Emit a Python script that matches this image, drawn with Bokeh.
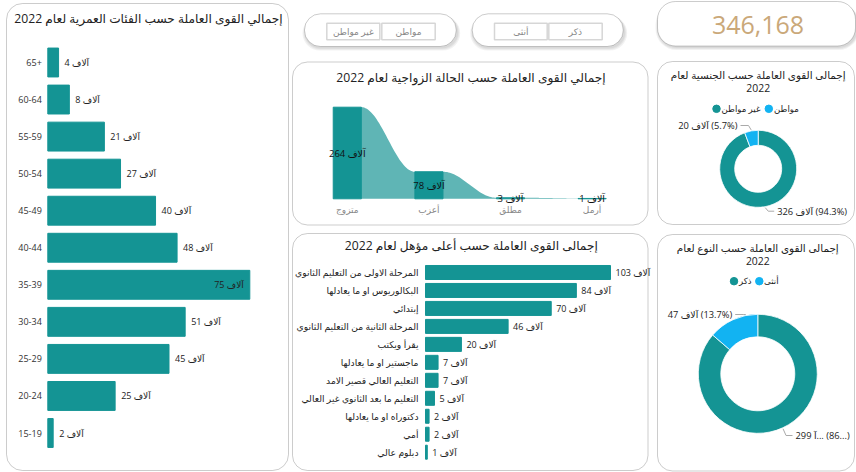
import numpy as np
from bokeh.plotting import figure
from bokeh.models import Range1d, BoxAnnotation
from bokeh.core.properties import value
from bokeh.embed import file_html
from bokeh.resources import INLINE

# ---------------- data ----------------
UNIT = "آلاف"
kpi_total = 346168

age_title = "إجمالي القوى العاملة حسب الفئات العمرية لعام 2022"
age_groups = ["65+", "60-64", "55-59", "50-54", "45-49", "40-44", "35-39", "30-34", "25-29", "20-24", "15-19"]
age_values = [4, 8, 21, 27, 40, 48, 75, 51, 45, 25, 2]

marital_title = "إجمالي القوى العاملة حسب الحالة الزواجية لعام 2022"
marital_status = ["متزوج", "أعزب", "مطلق", "أرمل"]
marital_values = [264, 78, 3, 1]

edu_title = "إجمالى القوى العاملة حسب أعلى مؤهل لعام 2022"
edu_levels = ["المرحلة الاولى من التعليم الثانوي", "البكالوريوس او ما يعادلها", "إبتدائي",
              "المرحلة الثانية من التعليم الثانوي", "يقرأ ويكتب", "ماجستير او ما يعادلها",
              "التعليم العالي قصير الامد", "التعليم ما بعد الثانوي غير العالي",
              "دكتوراه او ما يعادلها", "أمي", "دبلوم عالي"]
edu_values = [103, 84, 70, 46, 20, 7, 7, 5, 2, 2, 1]

nat_title = ["إجمالى القوى العاملة حسب الجنسية لعام", "2022"]
nat_labels = ["غير مواطن", "مواطن"]
nat_values = [326, 20]
nat_pct = [94.3, 5.7]

gender_title = ["إجمالى القوى العاملة حسب النوع لعام", "2022"]
gender_labels = ["ذكر", "أنثى"]
gender_values = [299, 47]
gender_pct = [86.3, 13.7]

slicer_nat = ["غير مواطن", "مواطن"]
slicer_gender = ["أنثى", "ذكر"]

# ---------------- style ----------------
W, H = 856, 472
TEAL = "#149494"
BLUE = "#12b3f2"
RIBBON = "#5fb5b5"
GOLD = "#caa879"
FONT = "Open Sans, DejaVu Sans"


def rtl(s):
    return "\u202b" + s + "\u202c"


def xr(va, vb, pa, pb):
    k = (vb - va) / (pb - pa)
    s = va - k * pa
    return Range1d(s, s + k * W)


def yr(va, vb, pa, pb):
    k = (vb - va) / (pa - pb)
    s = va - k * (H - pa)
    return Range1d(s, s + k * H)


p = figure(width=W, height=H, x_range=Range1d(0, W), y_range=Range1d(H, 0),
           output_backend="svg", toolbar_location=None, min_border=0,
           x_axis_location=None, y_axis_location=None)
p.outline_line_color = None
p.grid.visible = False
p.background_fill_color = "white"
p.border_fill_color = "white"

p.extra_x_ranges = {
    "age_x": xr(0, 75, 47.3, 249.3),
    "edu_x": xr(0, 103, 425, 610),
    "mar_x": xr(0, 1, 346.8, 428.4),
}
p.extra_y_ranges = {
    "age_y": yr(0, 10, 62, 432.5),
    "edu_y": yr(0, 10, 272, 451.7),
    "mar_y": yr(0, 264, 198.3, 106.7),
    "up": Range1d(0, H),
}


def box(l, t, r, b, radius=0, line="#555", lw=1.0, fill="white", alpha=1.0):
    p.add_layout(BoxAnnotation(left=l, right=r, top=H - t, bottom=H - b, y_range_name="up",
                               fill_color=fill, fill_alpha=alpha, line_color=line,
                               line_width=lw, border_radius=radius, level="underlay"))


def shadow(l, t, r, b, radius):
    for k in (3, 2, 1):
        p.add_layout(BoxAnnotation(left=l - k + 1, right=r + k + 1, top=H - (t + 2), bottom=H - (b + 1 + k),
                                   y_range_name="up", fill_color="black", fill_alpha=0.05,
                                   line_color=None, border_radius=radius + k, level="underlay"))


def txt(x, y, s, size, color="#222", align="center", baseline="middle", xo=0, yo=0,
        xname=None, yname=None, style="normal"):
    kw = {}
    if xname:
        kw["x_range_name"] = xname
    if yname:
        kw["y_range_name"] = yname
    p.text(x=list(x), y=list(y), text=list(s), text_font=value(FONT),
           text_font_size=f"{size}px", text_color=color, text_align=align,
           text_baseline=baseline, x_offset=xo, y_offset=yo, text_font_style=style, **kw)


# ---------------- panels ----------------
shadow(657, 1, 855, 45.5, 18)
shadow(304, 13.3, 455.7, 46, 16)
shadow(471.7, 13.3, 622.7, 46, 16)
box(6, 3, 288, 470, 16)
box(292, 61.5, 647.5, 224.5, 15)
box(292, 233, 647.5, 470, 15)
box(657, 61, 854, 224, 15)
box(657, 234, 854, 470.5, 15)
box(657, 1, 855, 45.5, 18)
box(304, 13.3, 455.7, 46, 16)
box(471.7, 13.3, 622.7, 46, 16)

# ---------------- KPI ----------------
txt([757.5], [24], [f"{kpi_total:,}"], 25, color=GOLD)

# ---------------- slicers ----------------
for (l, r, lab) in [(326.3, 379.3, slicer_nat[0]), (381.3, 434.7, slicer_nat[1]),
                    (494, 546.7, slicer_gender[0]), (548.3, 601.7, slicer_gender[1])]:
    box(l, 22.7, r, 39.3, 0, line="#777", lw=1.5)
    txt([(l + r) / 2], [31], [lab], 9, color="#888")

# ---------------- age chart ----------------
TITLE = 12.2
txt([148], [18], [rtl(age_title)], TITLE)
ai = list(range(len(age_groups)))
p.hbar(y=ai, left=0, right=age_values, height=0.78, color=TEAL,
       x_range_name="age_x", y_range_name="age_y")
txt([0] * len(ai), ai, age_groups, 9, color="#333", align="right", xo=-6,
    xname="age_x", yname="age_y")
amax = max(age_values)
out_i = [i for i in ai if age_values[i] < 0.85 * amax]
in_i = [i for i in ai if age_values[i] >= 0.85 * amax]
txt([age_values[i] for i in out_i], out_i, [f"{age_values[i]} {UNIT}" for i in out_i], 9,
    color="#222", align="left", xo=6, xname="age_x", yname="age_y")
txt([age_values[i] for i in in_i], in_i, [f"{age_values[i]} {UNIT}" for i in in_i], 9,
    color="#222", align="right", xo=-6, xname="age_x", yname="age_y")

# ---------------- marital ribbon chart ----------------
txt([470.5], [77], [rtl(marital_title)], TITLE)
mi = list(range(len(marital_status)))
hw = 0.345 / 2
t = np.linspace(0, 1, 40)
for i in range(len(mi) - 1):
    v0, v1 = marital_values[i], marital_values[i + 1]
    xs = list(i + hw + t * (1 - 2 * hw))
    ys = list(v0 + (v1 - v0) * (1 - np.cos(np.pi * t)) / 2)
    p.patch(xs + [xs[-1], xs[0]], ys + [0, 0], color=RIBBON, line_width=0,
            x_range_name="mar_x", y_range_name="mar_y")
p.vbar(x=mi, top=marital_values, bottom=0, width=0.345, color=TEAL,
       x_range_name="mar_x", y_range_name="mar_y")
txt(mi, [v / 2 for v in marital_values], [f"{v} {UNIT}" for v in marital_values], 9.5,
    color="#111", xname="mar_x", yname="mar_y")
txt(mi, [0] * len(mi), marital_status, 9, color="#888", baseline="top", yo=4,
    xname="mar_x", yname="mar_y")

# ---------------- education chart ----------------
txt([470.8], [245], [rtl(edu_title)], TITLE)
ei = list(range(len(edu_levels)))
p.hbar(y=ei, left=0, right=edu_values, height=0.78, color=TEAL,
       x_range_name="edu_x", y_range_name="edu_y")
txt([0] * len(ei), ei, edu_levels, 9.2, color="#222", align="right", xo=-7,
    xname="edu_x", yname="edu_y")
txt(edu_values, ei, [f"{v} {UNIT}" for v in edu_values], 9, color="#222", align="left", xo=5,
    xname="edu_x", yname="edu_y")


# ---------------- donuts ----------------
def donut(cx, cy, r_in, r_out, pcts, vals, title, tys, legend, label_pos, trunc=False):
    txt([cx, cx], tys, [title[0], title[1]], 10.4)
    # legend
    (dots, texts, ly) = legend
    cols = [TEAL, BLUE]
    p.scatter(x=dots, y=[ly, ly], size=7.5, color=cols)
    txt(texts[0], [ly, ly], texts[1], 8.6, color="#222", align="left")
    # slices: first clockwise from 12 o'clock, second counter-clockwise from 12
    f0 = pcts[0] / 100.0
    f1 = pcts[1] / 100.0
    a_top = np.pi / 2
    starts = [a_top - f0 * 2 * np.pi, a_top]
    ends = [a_top, a_top + f1 * 2 * np.pi]
    p.annular_wedge(x=[cx, cx], y=[H - cy, H - cy], inner_radius=r_in, outer_radius=r_out,
                    inner_radius_units="screen", outer_radius_units="screen",
                    start_angle=starts, end_angle=ends, fill_color=cols,
                    line_color="white", line_width=0.8, y_range_name="up")
    # anchor angles
    anc = [(starts[0] + ends[0]) / 2, starts[1] + min((ends[1] - starts[1]) / 2, 0.2)]
    labels = [f"{vals[0]} {UNIT}\u200e ({pcts[0]}%)", f"{vals[1]} {UNIT}\u200e ({pcts[1]}%)"]
    if trunc:
        labels[0] = f"{vals[0]} آ...\u200e ({int(pcts[0])}...)"
    for k in range(2):
        ax = cx + (r_out + 1) * np.cos(anc[k])
        ay = cy - (r_out + 1) * np.sin(anc[k])
        lx, lyy, side = label_pos[k]
        if side == "left":
            p.line(x=[lx + 3, lx + 11, ax], y=[H - lyy, H - lyy, H - ay], color="#aaa",
                   line_width=1, y_range_name="up")
            txt([lx], [lyy], [labels[k]], 9.3, color="#222", align="right")
        else:
            p.line(x=[ax, ax + 3, lx - 3], y=[H - ay, H - lyy, H - lyy], color="#aaa",
                   line_width=1, y_range_name="up")
            txt([lx], [lyy], [labels[k]], 9.3, color="#222", align="left")


donut(757.7, 168.3, 23.5, 38.5, nat_pct, nat_values, nat_title, [74, 87.5],
      ([716, 768.3], ([721, 773.5], nat_labels), 108.3),
      [(776.7, 210.7, "right"), (737, 125, "left")])
donut(757.3, 373.3, 37, 59.5, gender_pct, gender_values, gender_title, [247.3, 260.7],
      ([733.5, 758.8], ([738.5, 763.5], gender_labels), 280.7),
      [(795, 435, "right"), (731.7, 314, "left")], trunc=True)

open("out.html", "w").write(file_html(p, INLINE))
